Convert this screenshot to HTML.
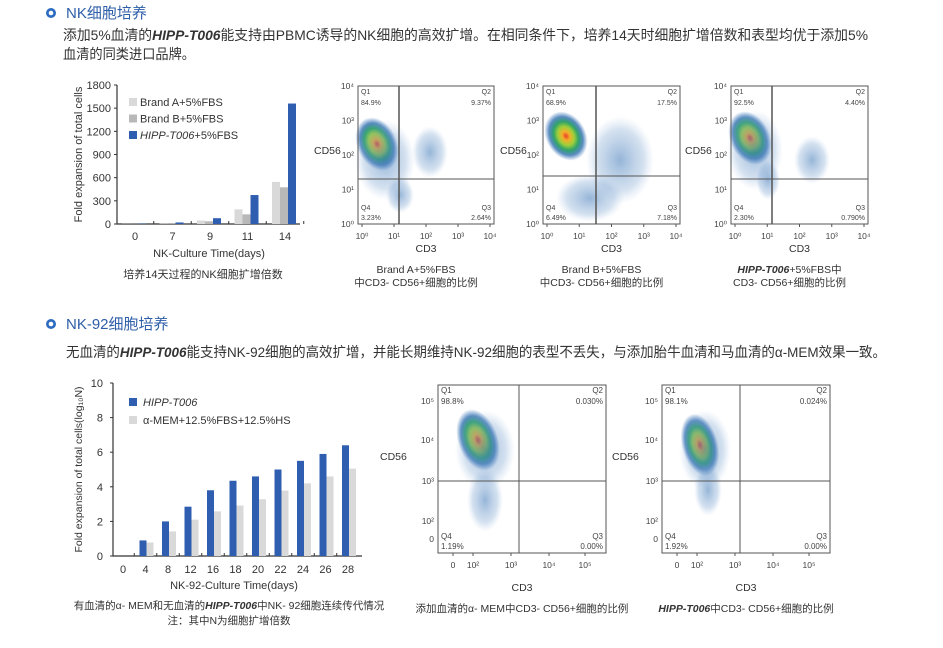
<!DOCTYPE html>
<html><head><meta charset="utf-8">
<style>
html,body{margin:0;padding:0;background:#fff;}
svg{display:block;font-family:"Liberation Sans","Noto Sans CJK SC",sans-serif;}
.t{fill:#333;}
</style></head>
<body>
<svg id="s" width="943" height="648" viewBox="0 0 943 648" xmlns="http://www.w3.org/2000/svg">
<defs>
<radialGradient id="blob" cx="50%" cy="50%" r="50%">
<stop offset="0" stop-color="#e8402a"/>
<stop offset="0.18" stop-color="#f3b02a"/>
<stop offset="0.38" stop-color="#9fcf3a"/>
<stop offset="0.58" stop-color="#2fa36a"/>
<stop offset="0.78" stop-color="#2f6fb0" stop-opacity="0.8"/>
<stop offset="1" stop-color="#3a73b8" stop-opacity="0"/>
</radialGradient>
<radialGradient id="cloud" cx="50%" cy="50%" r="50%">
<stop offset="0" stop-color="#3f78b8" stop-opacity="0.55"/>
<stop offset="0.7" stop-color="#6f9bcc" stop-opacity="0.3"/>
<stop offset="1" stop-color="#9cbbe0" stop-opacity="0"/>
</radialGradient>
</defs>

<g>
<circle cx="51" cy="13" r="5" fill="#2d6cc0"/><circle cx="51" cy="13" r="2.3" fill="#fff"/>
<text x="66" y="18" font-size="15" fill="#2d5ea8">NK细胞培养</text>
</g>
<text class="t" x="63" y="40" font-size="14" textLength="805" lengthAdjust="spacingAndGlyphs">添加5%血清的<tspan font-weight="bold" font-style="italic">HIPP-T006</tspan>能支持由PBMC诱导的NK细胞的高效扩增。在相同条件下，培养14天时细胞扩增倍数和表型均优于添加5%</text>
<text class="t" x="63" y="59" font-size="14" textLength="132" lengthAdjust="spacingAndGlyphs">血清的同类进口品牌。</text>

<g>
<circle cx="51" cy="324" r="5" fill="#2d6cc0"/><circle cx="51" cy="324" r="2.3" fill="#fff"/>
<text x="66" y="329" font-size="15" fill="#2d5ea8">NK-92细胞培养</text>
</g>
<text class="t" x="66" y="357" font-size="14" textLength="820" lengthAdjust="spacingAndGlyphs">无血清的<tspan font-weight="bold" font-style="italic">HIPP-T006</tspan>能支持NK-92细胞的高效扩增，并能长期维持NK-92细胞的表型不丢失，与添加胎牛血清和马血清的α-MEM效果一致。</text>

<g id="c1"></g>
<g id="c2"></g>
<g id="flows"></g>
</svg>
<script>
// ---- Chart 1 data ----
const cats1 = ["0","7","9","11","14"];
const brandA = [2, 5, 45, 190, 545];
const brandB = [2, 5, 35, 125, 475];
const hipp1 = [5, 20, 75, 375, 1560];
const yTicks1 = [0, 300, 600, 900, 1200, 1500, 1800];
// ---- Chart 2 data ----
const cats2 = ["0","4","8","12","16","18","20","22","24","26","28"];
const hipp2 = [0, 0.9, 2.0, 2.85, 3.8, 4.35, 4.6, 5.0, 5.5, 5.9, 6.4];
const amem = [0, 0.78, 1.42, 2.1, 2.58, 2.92, 3.28, 3.78, 4.2, 4.6, 5.05];
const yTicks2 = [0, 2, 4, 6, 8, 10];

const NS = "http://www.w3.org/2000/svg";
function mk(parent, tag, attrs, text) {
  const e = document.createElementNS(NS, tag);
  for (const k in attrs) e.setAttribute(k, attrs[k]);
  if (text !== undefined) e.textContent = text;
  parent.appendChild(e);
  return e;
}
const BLUE = "#2f5db0", LGREY = "#d9d9d9", GREY = "#b8b8b8";

(function(){
  const g = document.getElementById("c1");
  const L = 117, R = 300, T = 85, B = 224;
  const yMax = 1800;
  const y = v => B - v / yMax * (B - T);
  const c0 = 135, step = (285 - 135) / (cats1.length - 1);
  const x = i => c0 + i * step;
  const ax = mk(g, "path", {d:`M${L} ${T}V${B}H${R}`, fill:"none", stroke:"#333", "stroke-width":1.2});
  
  
  yTicks1.forEach(v => {
    mk(g, "line", {x1:L-3, x2:L, y1:y(v), y2:y(v), stroke:"#333"});
    const t = mk(g, "text", {x:L-6, y:y(v)+4, "font-size":11, "text-anchor":"end", fill:"#333"}, v);
    
    
  });
  cats1.forEach((c, i) => {
    const cx = x(i);
    mk(g, "line", {x1:cx+step/2, x2:cx+step/2, y1:B, y2:B-3, stroke:"#333"});
    const t = mk(g, "text", {x:cx, y:B+16, "font-size":11, "text-anchor":"middle", fill:"#333"}, c);
    
    
    [[brandA, LGREY, -13], [brandB, GREY, -5], [hipp1, BLUE, 3]].forEach(([arr, col, off]) => {
      const b = mk(g, "rect", {x:cx+off, y:y(arr[i]), width:8, height:B - y(arr[i]), fill:col});
      
      
    });
  });
  const yt = mk(g, "text", {x:0, y:0, "font-size":11, "text-anchor":"middle", fill:"#333", transform:`translate(82,${(T+B)/2}) rotate(-90)`}, "Fold  expansion of total cells");
  
  
  const xt = mk(g, "text", {x:209, y:257, "font-size":11, "text-anchor":"middle", fill:"#333"}, "NK-Culture Time(days)");
  
  
  const cap = mk(g, "text", {x:203, y:278, "font-size":11, "text-anchor":"middle", fill:"#333"}, "培养14天过程的NK细胞扩增倍数");
  
  
  const leg = [["Brand A+5%FBS", LGREY, false], ["Brand B+5%FBS", GREY, false], ["HIPP-T006", BLUE, true]];
  leg.forEach(([lab, col, it], k) => {
    const ly = 98 + k * 16.5;
    const lg = mk(g, "g", {});
    
    
    mk(lg, "rect", {x:129, y:ly, width:8, height:8, fill:col});
    const t = mk(lg, "text", {x:140, y:ly+8, "font-size":11, fill:"#333"});
    if (it) { mk(t, "tspan", {"font-style":"italic"}, lab); mk(t, "tspan", {}, "+5%FBS"); }
    else t.textContent = lab;
  });
})();

(function(){
  const g = document.getElementById("c2");
  const L = 113, R = 362, T = 383, B = 556;
  const yMax = 10;
  const y = v => B - v / yMax * (B - T);
  const c0 = 123, step = (348 - 123) / (cats2.length - 1);
  const x = i => c0 + i * step;
  const ax = mk(g, "path", {d:`M${L} ${T}V${B}H${R}`, fill:"none", stroke:"#333", "stroke-width":1.2});
  
  
  yTicks2.forEach(v => {
    mk(g, "line", {x1:L-3, x2:L, y1:y(v), y2:y(v), stroke:"#333"});
    const t = mk(g, "text", {x:L-10, y:y(v)+4, "font-size":11, "text-anchor":"end", fill:"#333"}, v);
    
    
  });
  cats2.forEach((c, i) => {
    const cx = x(i);
    if (i > 0) mk(g, "line", {x1:cx-step/2, x2:cx-step/2, y1:B, y2:B-3, stroke:"#333"});
    const t = mk(g, "text", {x:cx, y:B+17, "font-size":11, "text-anchor":"middle", fill:"#333"}, c);
    
    
    const b1 = mk(g, "rect", {x:cx-6, y:y(hipp2[i]), width:7, height:B - y(hipp2[i]), fill:BLUE});
    
    
    const b2 = mk(g, "rect", {x:cx+1, y:y(amem[i]), width:7, height:B - y(amem[i]), fill:LGREY});
    
    
  });
  const yt = mk(g, "text", {x:0, y:0, "font-size":10.5, "text-anchor":"middle", fill:"#333", transform:`translate(82,${(T+B)/2}) rotate(-90)`}, "Fold expansion of total cells(log₁₀N)");
  
  
  const xt = mk(g, "text", {x:234, y:589, "font-size":11, "text-anchor":"middle", fill:"#333"}, "NK-92-Culture Time(days)");
  
  
  const cap = mk(g, "text", {x:229, y:609, "font-size":10.5, "text-anchor":"middle", fill:"#333"});
  
  
  mk(cap, "tspan", {}, "有血清的α- MEM和无血清的");
  mk(cap, "tspan", {"font-style":"italic", "font-weight":"bold"}, "HIPP-T006");
  mk(cap, "tspan", {}, "中NK- 92细胞连续传代情况");
  const note = mk(g, "text", {x:229, y:624, "font-size":10.5, "text-anchor":"middle", fill:"#333"}, "注：其中N为细胞扩增倍数");
  
  
  [["HIPP-T006", BLUE, true, 398], ["α-MEM+12.5%FBS+12.5%HS", LGREY, false, 416]].forEach(([lab, col, it, ly]) => {
    const lg = mk(g, "g", {});
    
    
    mk(lg, "rect", {x:129, y:ly, width:8, height:8, fill:col});
    mk(lg, "text", {x:143, y:ly+8, "font-size":11, fill:"#333", "font-style":it ? "italic" : "normal"}, lab);
  });
})();

(function(){
  const g = document.getElementById("flows");
  const plots = [
    {L:358,R:494,T:86,B:224,gx:399,gy:179,q:["84.9%","9.37%","2.64%","3.23%"],lx:314,ly:154,
     cap:[[["Brand A+5%FBS",0]],[["中CD3- CD56+细胞的比例",0]]],
     blobs:[[377,144,20,28,-25,"blob"],[430,152,18,26,0,"cloud"],[400,195,14,18,0,"cloud"],[385,160,30,40,0,"cloud"]],ticks:["10⁰","10¹","10²","10³","10⁴"],small:1},
    {L:543,R:680,T:86,B:224,gx:596,gy:176,q:["68.9%","17.5%","7.18%","6.49%"],lx:500,ly:154,
     cap:[[["Brand B+5%FBS",0]],[["中CD3- CD56+细胞的比例",0]]],
     blobs:[[566,136,20,26,-30,"blob"],[620,160,34,44,0,"cloud"],[590,198,34,24,0,"cloud"]],ticks:["10⁰","10¹","10²","10³","10⁴"],small:1},
    {L:731,R:868,T:86,B:224,gx:772,gy:179,q:["92.5%","4.40%","0.790%","2.30%"],lx:685,ly:154,
     cap:[[["HIPP-T006",1],["+5%FBS中",0]],[["CD3- CD56+细胞的比例",0]]],
     blobs:[[750,138,20,28,-25,"blob"],[812,160,18,24,0,"cloud"],[768,180,12,20,0,"cloud"],[755,150,28,40,0,"cloud"]],ticks:["10⁰","10¹","10²","10³","10⁴"],small:1},
    {L:438,R:606,T:385,B:553,gx:519,gy:481,q:["98.8%","0.030%","0.00%","1.19%"],lx:380,ly:460,
     cap:[[["添加血清的α- MEM中CD3- CD56+细胞的比例",0]]],
     blobs:[[478,440,20,32,-20,"blob"],[485,500,18,32,0,"cloud"],[485,450,30,40,0,"cloud"]],ticks:["0","10²","10³","10⁴","10⁵"],small:0},
    {L:662,R:830,T:385,B:553,gx:740,gy:481,q:["98.1%","0.024%","0.00%","1.92%"],lx:612,ly:460,
     cap:[[["HIPP-T006",1],["中CD3- CD56+细胞的比例",0]]],
     blobs:[[700,445,18,32,-15,"blob"],[708,490,14,26,0,"cloud"],[705,450,26,40,0,"cloud"]],ticks:["0","10²","10³","10⁴","10⁵"],small:0}
  ];
  plots.forEach((p, k) => {
    const pg = mk(g, "g", {});
    
    
    p.blobs.forEach(b => mk(pg, "ellipse", {cx:b[0], cy:b[1], rx:b[2], ry:b[3], fill:"url(#"+b[5]+")", transform:`rotate(${b[4]} ${b[0]} ${b[1]})`}));
    mk(pg, "rect", {x:p.L, y:p.T, width:p.R-p.L, height:p.B-p.T, fill:"none", stroke:"#555", "stroke-width":1});
    mk(pg, "line", {x1:p.gx, x2:p.gx, y1:p.T, y2:p.B, stroke:"#555", "stroke-width":p.small?1.5:1});
    mk(pg, "line", {x1:p.L, x2:p.R, y1:p.gy, y2:p.gy, stroke:"#555", "stroke-width":1});
    const fs = p.small ? 7 : 8;
    mk(pg, "text", {x:p.L+3, y:p.T+8, "font-size":fs, fill:"#444"}, "Q1");
    mk(pg, "text", {x:p.L+3, y:p.T+19, "font-size":fs, fill:"#444"}, p.q[0]);
    mk(pg, "text", {x:p.R-3, y:p.T+8, "font-size":fs, fill:"#444", "text-anchor":"end"}, "Q2");
    mk(pg, "text", {x:p.R-3, y:p.T+19, "font-size":fs, fill:"#444", "text-anchor":"end"}, p.q[1]);
    mk(pg, "text", {x:p.R-3, y:p.B-14, "font-size":fs, fill:"#444", "text-anchor":"end"}, "Q3");
    mk(pg, "text", {x:p.R-3, y:p.B-4, "font-size":fs, fill:"#444", "text-anchor":"end"}, p.q[2]);
    mk(pg, "text", {x:p.L+3, y:p.B-14, "font-size":fs, fill:"#444"}, "Q4");
    mk(pg, "text", {x:p.L+3, y:p.B-4, "font-size":fs, fill:"#444"}, p.q[3]);
    const n = p.ticks.length;
    p.ticks.forEach((t, i) => {
      const yy = p.small ? p.B - i * (p.B - p.T) / (n - 1) : [p.B-14, p.B-32, p.gy, p.T+55, p.T+16][i];
      const xx = p.small ? p.L + 4 + i * (p.R - p.L - 8) / (n - 1) : [p.L+15, p.L+35, p.L+73, p.L+111, p.L+147][i];
      mk(pg, "text", {x:p.L-4, y:yy+3, "font-size":8.5, fill:"#444", "text-anchor":"end"}, t);
      mk(pg, "text", {x:xx, y:p.B+15, "font-size":8.5, fill:"#444", "text-anchor":"middle"}, t);
      mk(pg, "line", {x1:xx, x2:xx, y1:p.B, y2:p.B+3, stroke:"#555"});
    });
    const l = mk(pg, "text", {x:p.lx, y:p.ly, "font-size":10.5, fill:"#333"}, "CD56");
    
    
    const cx = (p.L + p.R) / 2;
    const xl = mk(pg, "text", {x:cx, y:p.B + (p.small?28:38), "font-size":10.5, fill:"#333", "text-anchor":"middle"}, "CD3");
    
    
    const capY = p.small ? 273 : 612;
    p.cap.forEach((line, j) => {
      const t = mk(pg, "text", {x:cx - (p.small?10:0), y:capY + j*13, "font-size":10.5, fill:"#333", "text-anchor":"middle"});
      
      
      line.forEach(([s, it]) => mk(t, "tspan", it ? {"font-style":"italic","font-weight":"bold"} : {}, s));
    });
  });
})();
</script>
</body></html>
